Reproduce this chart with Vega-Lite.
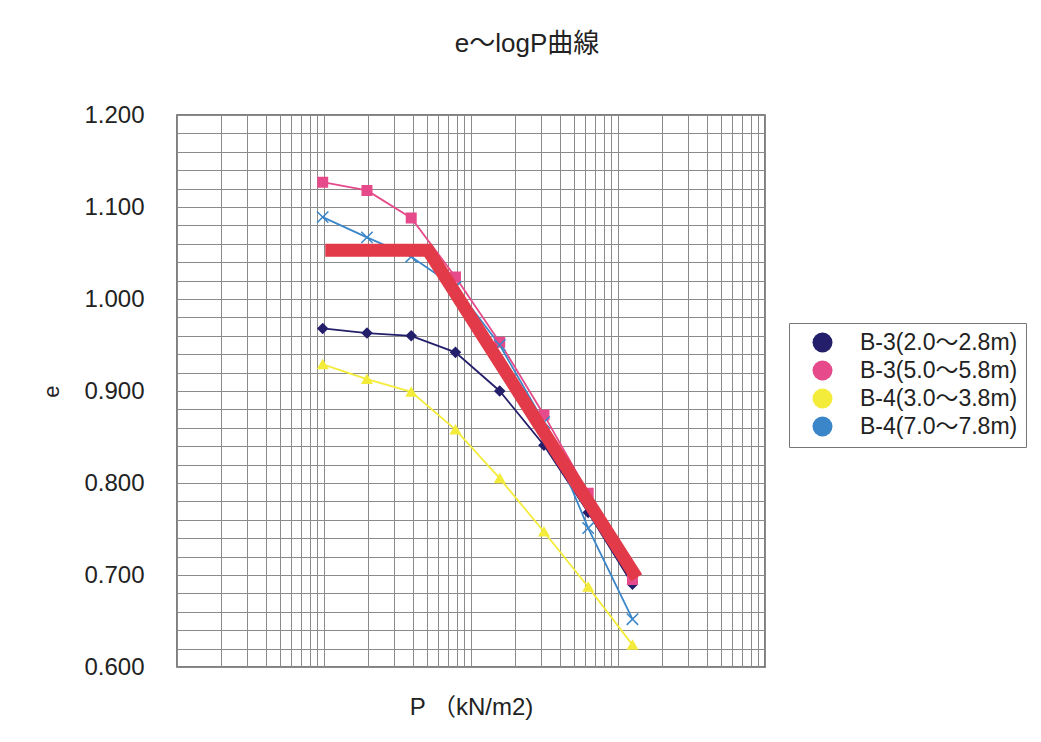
{
  "$schema": "https://vega.github.io/schema/vega-lite/v6.json",
  "width": 588,
  "height": 552,
  "autosize": "none",
  "padding": {"left": 177, "top": 115, "right": 276, "bottom": 75},
  "background": "white",
  "config": {
    "font": "Liberation Sans, Noto Sans CJK JP",
    "view": {"stroke": "#555555", "strokeWidth": 1.5}
  },
  "title": {
    "text": "e～logP曲線",
    "fontSize": 26,
    "fontWeight": "normal",
    "color": "#222222",
    "anchor": "middle",
    "frame": "group",
    "dx": 56,
    "offset": 46,
    "font": "Liberation Sans, Noto Sans CJK JP"
  },
  "datasets": {
    "series": [
      {"sample": "B-3(2.0～2.8m)", "P": 9.8, "e": 0.968},
      {"sample": "B-3(2.0～2.8m)", "P": 19.6, "e": 0.963},
      {"sample": "B-3(2.0～2.8m)", "P": 39.2, "e": 0.960},
      {"sample": "B-3(2.0～2.8m)", "P": 78.4, "e": 0.942},
      {"sample": "B-3(2.0～2.8m)", "P": 156.8, "e": 0.900},
      {"sample": "B-3(2.0～2.8m)", "P": 313.6, "e": 0.841},
      {"sample": "B-3(2.0～2.8m)", "P": 627.2, "e": 0.768},
      {"sample": "B-3(2.0～2.8m)", "P": 1254.4, "e": 0.690},
      {"sample": "B-3(5.0～5.8m)", "P": 9.8, "e": 1.127},
      {"sample": "B-3(5.0～5.8m)", "P": 19.6, "e": 1.118},
      {"sample": "B-3(5.0～5.8m)", "P": 39.2, "e": 1.088},
      {"sample": "B-3(5.0～5.8m)", "P": 78.4, "e": 1.024},
      {"sample": "B-3(5.0～5.8m)", "P": 156.8, "e": 0.953},
      {"sample": "B-3(5.0～5.8m)", "P": 313.6, "e": 0.874},
      {"sample": "B-3(5.0～5.8m)", "P": 627.2, "e": 0.789},
      {"sample": "B-3(5.0～5.8m)", "P": 1254.4, "e": 0.695},
      {"sample": "B-4(3.0～3.8m)", "P": 9.8, "e": 0.929},
      {"sample": "B-4(3.0～3.8m)", "P": 19.6, "e": 0.913},
      {"sample": "B-4(3.0～3.8m)", "P": 39.2, "e": 0.899},
      {"sample": "B-4(3.0～3.8m)", "P": 78.4, "e": 0.858},
      {"sample": "B-4(3.0～3.8m)", "P": 156.8, "e": 0.805},
      {"sample": "B-4(3.0～3.8m)", "P": 313.6, "e": 0.747},
      {"sample": "B-4(3.0～3.8m)", "P": 627.2, "e": 0.687},
      {"sample": "B-4(3.0～3.8m)", "P": 1254.4, "e": 0.624},
      {"sample": "B-4(7.0～7.8m)", "P": 9.8, "e": 1.089},
      {"sample": "B-4(7.0～7.8m)", "P": 19.6, "e": 1.067},
      {"sample": "B-4(7.0～7.8m)", "P": 39.2, "e": 1.046},
      {"sample": "B-4(7.0～7.8m)", "P": 78.4, "e": 1.013},
      {"sample": "B-4(7.0～7.8m)", "P": 156.8, "e": 0.950},
      {"sample": "B-4(7.0～7.8m)", "P": 313.6, "e": 0.866},
      {"sample": "B-4(7.0～7.8m)", "P": 627.2, "e": 0.751},
      {"sample": "B-4(7.0～7.8m)", "P": 1254.4, "e": 0.652}
    ],
    "trend": [
      {"P": 10.2, "e": 1.053},
      {"P": 51, "e": 1.053},
      {"P": 1340, "e": 0.697}
    ]
  },
  "resolve": {"legend": {"color": "independent"}},
  "layer": [
    {
      "data": {"name": "series"},
      "mark": {"type": "line", "strokeWidth": 1.8},
      "encoding": {
        "x": {
          "field": "P",
          "type": "quantitative",
          "scale": {"type": "log", "domain": [1, 10000], "nice": false},
          "axis": {
            "title": "P （kN/m2)",
            "values": [1, 2, 3, 4, 5, 6, 7, 8, 9, 10, 20, 30, 40, 50, 60, 70, 80, 90, 100, 200, 300, 400, 500, 600, 700, 800, 900, 1000, 2000, 3000, 4000, 5000, 6000, 7000, 8000, 9000, 10000],
            "tickCount": 200,
            "labels": false,
            "ticks": false,
            "domain": false,
            "grid": true,
            "gridColor": "#8a8a8a",
            "gridWidth": 1,
            "gridOpacity": 1,
            "titleFontSize": 24,
            "titleFontWeight": "normal",
            "titleColor": "#222222",
            "titlePadding": 28
          }
        },
        "y": {
          "field": "e",
          "type": "quantitative",
          "scale": {"domain": [0.6, 1.2], "nice": false, "zero": false},
          "axis": {
            "title": "e",
            "values": [0.6, 0.62, 0.64, 0.66, 0.68, 0.7, 0.72, 0.74, 0.76, 0.78, 0.8, 0.82, 0.84, 0.86, 0.88, 0.9, 0.92, 0.94, 0.96, 0.98, 1.0, 1.02, 1.04, 1.06, 1.08, 1.1, 1.12, 1.14, 1.16, 1.18, 1.2],
            "tickCount": 200,
            "labelExpr": "abs(datum.value * 10 - round(datum.value * 10)) < 0.001 ? format(datum.value, '.3f') : ''",
            "labelFontSize": 24,
            "labelColor": "#222222",
            "labelPadding": 33,
            "labelOverlap": false,
            "labelFlush": false,
            "ticks": false,
            "domain": false,
            "grid": true,
            "gridColor": "#8a8a8a",
            "gridWidth": 1,
            "gridOpacity": 1,
            "titleFontSize": 22,
            "titleFontWeight": "normal",
            "titleColor": "#222222",
            "titlePadding": 20
          }
        },
        "color": {
          "field": "sample",
          "type": "nominal",
          "scale": {
            "domain": ["B-3(2.0～2.8m)", "B-3(5.0～5.8m)", "B-4(3.0～3.8m)", "B-4(7.0～7.8m)"],
            "range": ["#241f6b", "#e64a8a", "#f4ec3a", "#3a86c8"]
          },
          "legend": null
        }
      }
    },
    {
      "data": {"name": "series"},
      "mark": {"type": "point", "filled": true, "size": 90, "strokeWidth": 1.5, "opacity": 1},
      "encoding": {
        "x": {"field": "P", "type": "quantitative"},
        "y": {"field": "e", "type": "quantitative"},
        "color": {
          "field": "sample",
          "type": "nominal",
          "legend": {
            "orient": "none",
            "legendX": 612,
            "legendY": 208,
            "title": null,
            "labelFontSize": 23,
            "labelFont": "Liberation Sans, Noto Sans CJK JP",
            "labelColor": "#222222",
            "symbolSize": 400,
            "symbolOffset": 14,
            "labelOffset": 26,
            "padding": 8,
            "rowPadding": 4,
            "strokeColor": "#777777",
            "fillColor": "white",
            "symbolStrokeWidth": 1.5,
            "encode": {
              "symbols": {
                "shape": {"value": {"expr": "datum.value == 'B-3(2.0～2.8m)' ? 'M-2.5,0H2.5M0,-0.55L0.55,0L0,0.55L-0.55,0Z' : datum.value == 'B-3(5.0～5.8m)' ? 'M-2.5,0H2.5M-0.45,-0.45H0.45V0.45H-0.45Z' : datum.value == 'B-4(3.0～3.8m)' ? 'M-2.5,0H2.5M0,-0.55L0.55,0.45L-0.55,0.45Z' : 'M-2.5,0H2.5M-0.5,-0.5L0.5,0.5M-0.5,0.5L0.5,-0.5'"}},
                "stroke": {"value": {"expr": "datum.value == 'B-3(2.0～2.8m)' ? '#241f6b' : datum.value == 'B-3(5.0～5.8m)' ? '#e64a8a' : datum.value == 'B-4(3.0～3.8m)' ? '#f4ec3a' : '#3a86c8'"}},
                "strokeWidth": {"value": 1.5}
              }
            }
          }
        },
        "shape": {
          "field": "sample",
          "type": "nominal",
          "scale": {
            "domain": ["B-3(2.0～2.8m)", "B-3(5.0～5.8m)", "B-4(3.0～3.8m)", "B-4(7.0～7.8m)"],
            "range": ["diamond", "square", "triangle-up", "M-1.2,-1.2L1.2,1.2M-1.2,1.2L1.2,-1.2"]
          }
        },
        "stroke": {
          "field": "sample",
          "type": "nominal",
          "scale": {
            "domain": ["B-3(2.0～2.8m)", "B-3(5.0～5.8m)", "B-4(3.0～3.8m)", "B-4(7.0～7.8m)"],
            "range": ["#241f6b", "#e64a8a", "#f4ec3a", "#3a86c8"]
          },
          "legend": null
        }
      }
    },
    {
      "data": {"name": "trend"},
      "mark": {"type": "line", "color": "#e23a48", "strokeWidth": 13, "strokeCap": "butt", "strokeJoin": "miter"},
      "encoding": {
        "x": {"field": "P", "type": "quantitative"},
        "y": {"field": "e", "type": "quantitative"}
      }
    }
  ]
}
